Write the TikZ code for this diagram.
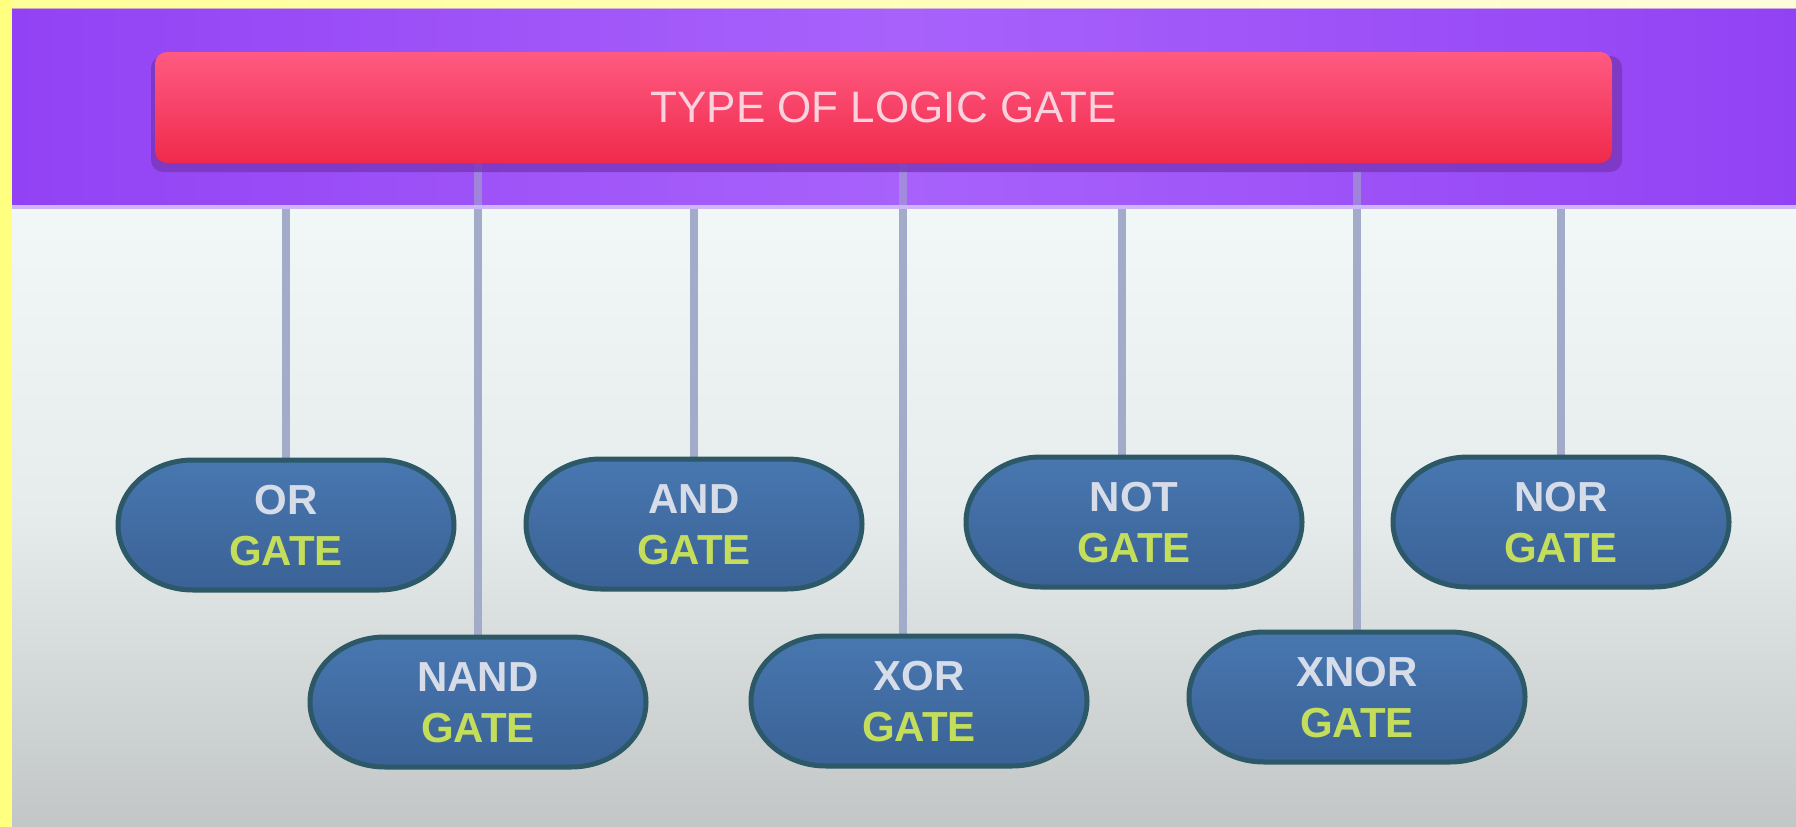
\documentclass[tikz,border=0pt]{standalone}
\usepackage{fontspec}
\setmainfont{Liberation Sans}
\definecolor{yelL}{HTML}{FFFF80}
\definecolor{yelT}{HTML}{FFFF98}
\definecolor{yelT2}{HTML}{FFFCDC}
\definecolor{bandside}{HTML}{9242F4}
\definecolor{bandmid}{HTML}{A862FB}
\definecolor{bandedge}{HTML}{CDB6F8}
\definecolor{redtop}{HTML}{FF5A82}
\definecolor{redbot}{HTML}{F02A4C}
\definecolor{redshadow}{HTML}{7836BA}
\definecolor{titletext}{HTML}{FAD2DE}
\definecolor{bgtop}{HTML}{F1F8F7}
\definecolor{bgmid}{HTML}{E6ECEB}
\definecolor{bgbot}{HTML}{C2C6C6}
\definecolor{connc}{HTML}{A2ACC8}
\definecolor{gtop}{HTML}{4877B0}
\definecolor{gbot}{HTML}{3A6296}
\definecolor{gborder}{HTML}{2C5868}
\definecolor{gword}{HTML}{D6DCE8}
\definecolor{gyel}{HTML}{C4DE5C}
\pgfdeclarelayer{back}
\pgfdeclarelayer{mid}
\pgfdeclarelayer{gshape}
\pgfsetlayers{back,mid,gshape,main}
\newcommand\gatepill[1]{%
  \path[draw=gborder, line width=5pt, top color=gtop, bottom color=gbot,
        shift={(#1.center)}, yshift=1pt]
    (-93,-65) -- (93,-65)
    arc[start angle=90, end angle=-90, x radius=75pt, y radius=65pt]
    -- (-93,65)
    arc[start angle=270, end angle=90, x radius=75pt, y radius=65pt]
    -- cycle;}
\begin{document}
\begin{tikzpicture}[x=1pt,y=-1pt,
  bandbox/.style={rectangle, inner sep=0pt, draw=none,
    left color=bandside, right color=bandside, middle color=bandmid},
  titlebox/.style={rectangle, rounded corners=12pt, inner sep=0pt,
    top color=redtop, bottom color=redbot, text=titletext,
    font=\fontsize{44}{52}\selectfont},
  gatebox/.style={rectangle, draw=none, minimum width=336pt,
    minimum height=133pt, inner sep=0pt, align=center,
    font=\fontsize{42}{51}\selectfont\bfseries, text=gword},
  conn/.style={draw=connc, line width=8pt}
]
\useasboundingbox (0,0) rectangle (1796,827);

% background layer
\begin{pgfonlayer}{back}
  \shade[top color=bgtop, bottom color=bgbot, middle color=bgmid] (0,200) rectangle (1796,827);
  \node[bandbox, minimum width=1784pt, minimum height=199pt, anchor=north west] (band) at (12,8) {};
  \fill[yelL] (0,0) rectangle (12,827);
  \shade[left color=yelT, right color=yelT2] (12,0) rectangle (1796,8);
\end{pgfonlayer}

% title
\fill[redshadow, opacity=0.8, rounded corners=12pt] (151,56) rectangle (1622,172);
\node[titlebox, minimum width=1457pt, minimum height=111pt] (title) at (883.5,107.5) {TYPE OF LOGIC GATE};

% gates
\node[gatebox] (orgate)   at (286,526)  {OR\\\color{gyel}GATE};
\node[gatebox] (andgate)  at (694,525)  {AND\\\color{gyel}GATE};
\node[gatebox] (notgate)  at (1134,523) {NOT\\\color{gyel}GATE};
\node[gatebox] (norgate)  at (1561,523) {NOR\\\color{gyel}GATE};
\node[gatebox] (nandgate) at (478,703)  {NAND\\\color{gyel}GATE};
\node[gatebox] (xorgate)  at (919,702)  {XOR\\\color{gyel}GATE};
\node[gatebox] (xnorgate) at (1357,698) {XNOR\\\color{gyel}GATE};

\begin{pgfonlayer}{gshape}
  \foreach \g in {orgate,andgate,notgate,norgate,nandgate,xorgate,xnorgate}
    {\gatepill{\g}}
\end{pgfonlayer}

% connectors
\begin{pgfonlayer}{mid}
  \draw[conn] (orgate.north) -- (orgate.north |- band.south);
  \draw[conn] (nandgate.north) -- (nandgate.north |- title.south);
  \draw[conn] (andgate.north) -- (andgate.north |- band.south);
  \draw[conn] ([xshift=-16pt]xorgate.north) -- ([xshift=-16pt]xorgate.north |- title.south);
  \draw[conn] ([xshift=-12pt]notgate.north) -- ([xshift=-12pt]notgate.north |- band.south);
  \draw[conn] (xnorgate.north) -- ([yshift=-8pt]xnorgate.north |- title.south);
  \draw[conn] (norgate.north) -- (norgate.north |- band.south);
  \shade[left color=bandside, right color=bandside, middle color=bandmid, opacity=0.45]
    (band.north west) rectangle (band.south east);
  \draw[bandedge, line width=4pt] (band.south west) -- (band.south east);
\end{pgfonlayer}
\end{tikzpicture}
\end{document}
